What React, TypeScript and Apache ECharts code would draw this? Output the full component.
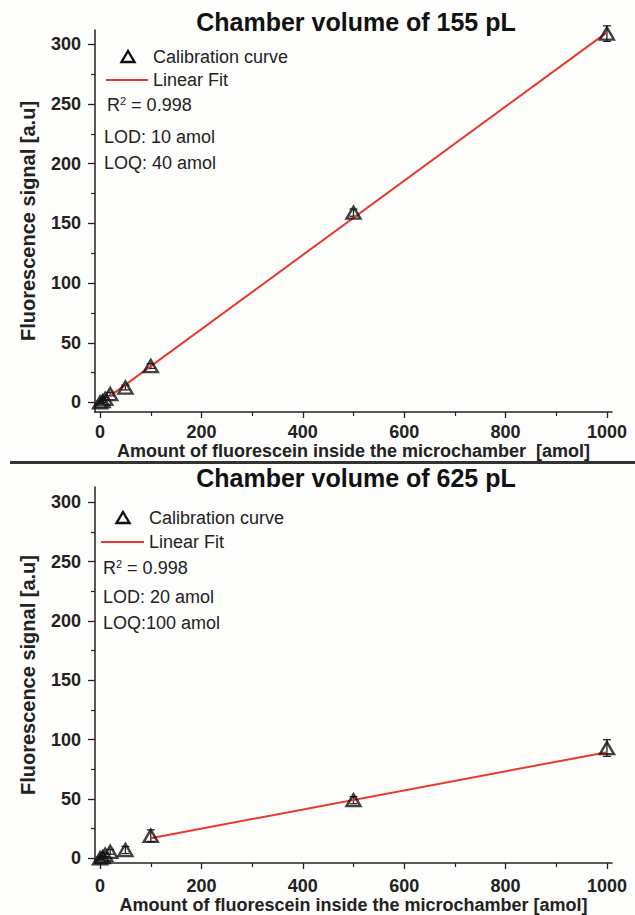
import React, { useEffect, useRef } from "react";
import * as echarts from "echarts";

const amounts = [0, 5, 10, 20, 50, 100, 500, 1000];
const signalTop = [0, 1, 3, 7, 12.5, 30.5, 159, 309];
const errorTop = [1, 1, 1, 1.5, 2, 2, 3, 6.5];
const fitTop = [[20, 5.5], [1000, 310]];
const signalBottom = [0, 1, 3, 5.5, 7, 19, 49, 93];
const errorBottom = [1, 1, 1.5, 2, 3, 5, 3, 7];
const fitBottom = [[100, 17], [1000, 89.5]];

const xMajor = [0, 200, 400, 600, 800, 1000];
const xMinor = [100, 300, 500, 700, 900];
const yMajor = [0, 50, 100, 150, 200, 250, 300];
const yMinor = [25, 75, 125, 175, 225, 275];

const titles = ["Chamber volume of 155 pL", "Chamber volume of 625 pL"];
const xNames = [
  "Amount of fluorescein inside the microchamber  [amol]",
  "Amount of fluorescein inside the microchamber [amol]",
];
const yName = "Fluorescence signal [a.u]";
const legendScatter = "Calibration curve";
const legendFit = "Linear Fit";
const r2Text = ["R{sup|2} = 0.998", "R{sup|2} = 0.998"];
const lodText = ["LOD: 10 amol", "LOD: 20 amol"];
const loqText = ["LOQ: 40 amol", "LOQ:100 amol"];

const FONT = "'Liberation Sans', Arial, sans-serif";
const INK = "#222";
const RED = "#e8392f";

export default function App() {
  const ref = useRef<HTMLDivElement>(null);

  useEffect(() => {
    if (!ref.current) return;
    const chart = echarts.init(ref.current, undefined, { renderer: "svg" });

    const grids = [
      { left: 95, right: 23, top: 30, bottom: 503 },
      { left: 95, right: 23, top: 487, bottom: 48 },
    ];
    const yRanges = [
      [-8, 312],
      [-4, 313],
    ];
    const labelMargins = [11, 14];
    const nameGaps = [28, 31];
    const fmt = (v: number) => String(v);

    const xAxes: any[] = [];
    const yAxes: any[] = [];
    [0, 1].forEach((g) => {
      xAxes.push({
        type: "value",
        gridIndex: g,
        position: "bottom",
        min: -10,
        max: 1010,
        splitLine: { show: false },
        axisLine: { show: true, onZero: false, lineStyle: { color: INK, width: 1.5 } },
        axisTick: { show: true, inside: false, customValues: xMajor, length: 6, lineStyle: { color: INK, width: 1.3 } },
        axisLabel: {
          customValues: xMajor,
          formatter: fmt,
          margin: labelMargins[g],
          fontSize: 18,
          fontWeight: "bold",
          fontFamily: FONT,
          color: INK,
        },
        name: xNames[g],
        nameLocation: "middle",
        nameGap: nameGaps[g],
        nameTextStyle: { fontSize: 18, fontWeight: "bold", fontFamily: FONT, color: INK },
      });
      xAxes.push({
        type: "value",
        gridIndex: g,
        position: "bottom",
        min: -10,
        max: 1010,
        splitLine: { show: false },
        axisLine: { show: false, onZero: false },
        axisTick: { show: true, inside: false, customValues: xMinor, length: 4, lineStyle: { color: INK, width: 1.2 } },
        axisLabel: { show: false },
      });
      yAxes.push({
        type: "value",
        gridIndex: g,
        position: "left",
        min: yRanges[g][0],
        max: yRanges[g][1],
        splitLine: { show: false },
        axisLine: { show: true, onZero: false, lineStyle: { color: INK, width: 1.5 } },
        axisTick: { show: true, inside: false, customValues: yMajor, length: 7, lineStyle: { color: INK, width: 1.3 } },
        axisLabel: {
          customValues: yMajor,
          formatter: fmt,
          margin: 14,
          fontSize: 18,
          fontWeight: "bold",
          fontFamily: FONT,
          color: INK,
        },
        name: yName,
        nameLocation: "middle",
        nameGap: 57,
        nameTextStyle: { fontSize: 20, fontWeight: "bold", fontFamily: FONT, color: INK },
      });
      yAxes.push({
        type: "value",
        gridIndex: g,
        position: "left",
        min: yRanges[g][0],
        max: yRanges[g][1],
        splitLine: { show: false },
        axisLine: { show: false, onZero: false },
        axisTick: { show: true, inside: false, customValues: yMinor, length: 4, lineStyle: { color: INK, width: 1.2 } },
        axisLabel: { show: false },
      });
    });

    const errRender = (params: any, api: any) => {
      const x = api.value(0);
      const y = api.value(1);
      const e = api.value(2);
      const t = api.coord([x, y + e]);
      const b = api.coord([x, y - e]);
      const cw = 4;
      const style = { stroke: INK, lineWidth: 1.3 };
      return {
        type: "group",
        children: [
          { type: "line", shape: { x1: t[0], y1: t[1], x2: b[0], y2: b[1] }, style },
          { type: "line", shape: { x1: t[0] - cw, y1: t[1], x2: t[0] + cw, y2: t[1] }, style },
          { type: "line", shape: { x1: b[0] - cw, y1: b[1], x2: b[0] + cw, y2: b[1] }, style },
        ],
      };
    };

    const sets = [
      { sig: signalTop, err: errorTop, fit: fitTop },
      { sig: signalBottom, err: errorBottom, fit: fitBottom },
    ];
    const series: any[] = [];
    sets.forEach((s, g) => {
      series.push({
        type: "custom",
        xAxisIndex: g * 2,
        yAxisIndex: g * 2,
        renderItem: errRender,
        encode: { x: 0, y: 1 },
        data: amounts.map((a, i) => [a, s.sig[i], s.err[i]]),
        silent: true,
        z: 2,
      });
      series.push({
        type: "line",
        name: legendFit,
        xAxisIndex: g * 2,
        yAxisIndex: g * 2,
        data: s.fit,
        symbol: "none",
        lineStyle: { color: RED, width: 2 },
        z: 3,
      });
      series.push({
        type: "scatter",
        name: legendScatter,
        xAxisIndex: g * 2,
        yAxisIndex: g * 2,
        data: amounts.map((a, i) => [a, s.sig[i]]),
        symbol: "triangle",
        symbolSize: [14, 12],
        itemStyle: { color: "transparent", borderColor: "#111", borderWidth: 2.4 },
        z: 4,
      });
    });

    const textStyle = (txt: string) => ({
      text: txt,
      fontSize: 18,
      fontFamily: FONT,
      fill: INK,
      verticalAlign: "middle",
    });

    const legendPos = [
      { tri: [128, 57], txtX: 153, y1: 57, lx1: 106, lx2: 148, y2: 80, rx: 107, ry: 105, lodX: 104, lodY: 137, loqY: 163 },
      { tri: [123, 518], txtX: 149, y1: 518, lx1: 101, lx2: 144, y2: 542, rx: 103, ry: 568, lodX: 103, lodY: 597, loqY: 623 },
    ];

    const graphic: any[] = [];
    legendPos.forEach((p, g) => {
      const [cx, cy] = p.tri;
      graphic.push({
        type: "polygon",
        shape: { points: [[cx, cy - 6], [cx + 6.5, cy + 5], [cx - 6.5, cy + 5]] },
        style: { fill: "none", stroke: "#111", lineWidth: 2.4 },
      });
      graphic.push({ type: "text", x: p.txtX, y: p.y1, style: textStyle(legendScatter) });
      graphic.push({
        type: "line",
        shape: { x1: p.lx1, y1: p.y2, x2: p.lx2, y2: p.y2 },
        style: { stroke: RED, lineWidth: 2 },
      });
      graphic.push({ type: "text", x: p.txtX, y: p.y2, style: textStyle(legendFit) });
      graphic.push({
        type: "text",
        x: p.rx,
        y: p.ry,
        style: {
          ...textStyle(r2Text[g]),
          rich: { sup: { fontSize: 11, fontFamily: FONT, fill: INK, verticalAlign: "top", padding: [0, 0, 9, 0] } },
        },
      });
      graphic.push({ type: "text", x: p.lodX, y: p.lodY, style: textStyle(lodText[g]) });
      graphic.push({ type: "text", x: p.lodX, y: p.loqY, style: textStyle(loqText[g]) });
    });
    [22, 478].forEach((y, g) => {
      graphic.push({
        type: "text",
        x: 356,
        y,
        style: {
          text: titles[g],
          fontSize: 25,
          fontWeight: "bold",
          fontFamily: FONT,
          fill: "#111",
          align: "center",
          verticalAlign: "middle",
        },
      });
    });
    graphic.push({
      type: "rect",
      shape: { x: 10, y: 461, width: 625, height: 3 },
      style: { fill: "#333" },
    });

    chart.setOption({
      animation: false,
      backgroundColor: "#fdfdfb",
      grid: grids,
      xAxis: xAxes,
      yAxis: yAxes,
      series,
      graphic,
    });

    return () => chart.dispose();
  }, []);

  return (
    <div
      ref={ref}
      style={{ position: "fixed", left: 0, top: 0, width: 635, height: 915 }}
    />
  );
}
